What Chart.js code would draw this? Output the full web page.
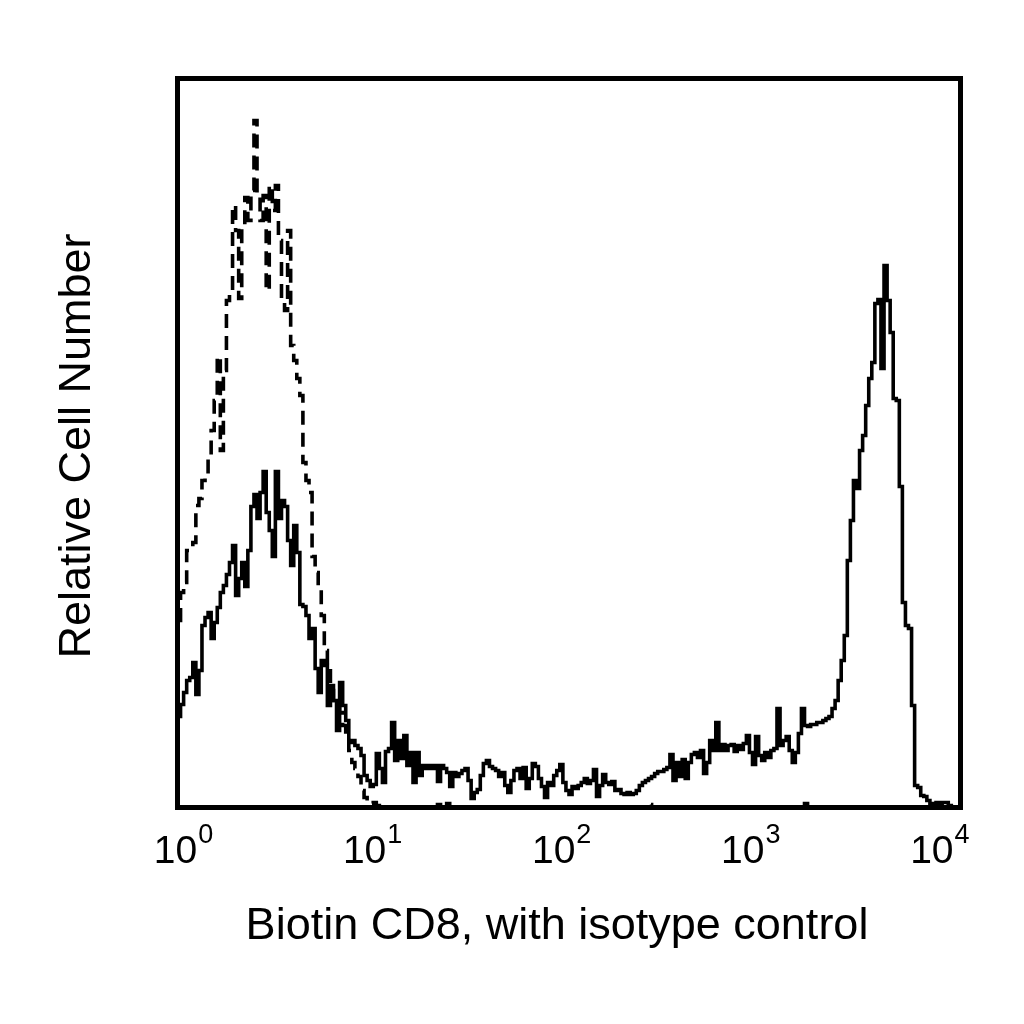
<!DOCTYPE html>
<html>
<head>
<meta charset="utf-8">
<title>Biotin CD8 histogram</title>
<script src="https://cdn.jsdelivr.net/npm/chart.js@4.4.0/dist/chart.umd.min.js"></script>
<style>
    body { margin: 0; background: #ffffff; }
    #wrap { width: 1024px; height: 1024px; }
</style>
</head>
<body>
<div id="wrap"><canvas id="graph" width="1024" height="1024"></canvas></div>
<script>
// 256 log channels, 64 channels per decade (10^0 .. 10^4)
// Biotin CD8 stained cells (solid line)
var cd8Counts = [
    91, 103, 115, 127, 130, 145, 113, 137, 182, 190,
    195, 169, 185, 200, 215, 222, 233, 245, 262, 212,
    229, 245, 221, 257, 301, 313, 289, 315, 336, 295,
    277, 251, 336, 289, 307, 301, 267, 242, 282, 255,
    203, 201, 192, 169, 179, 139, 115, 147, 142, 102,
    122, 107, 77, 125, 102, 87, 65, 67, 62, 59,
    52, 32, 27, 21, 23, 54, 39, 25, 56, 59,
    85, 47, 67, 49, 72, 42, 55, 25, 55, 32,
    42, 39, 42, 39, 42, 26, 42, 39, 35, 21,
    35, 31, 34, 37, 39, 27, 9, 15, 18, 32,
    44, 47, 41, 39, 37, 31, 35, 22, 15, 27,
    37, 39, 29, 40, 19, 29, 44, 41, 29, 21,
    10, 25, 22, 32, 37, 43, 25, 17, 13, 21,
    19, 22, 25, 29, 24, 27, 38, 11, 22, 33,
    25, 23, 26, 17, 18, 14, 13, 15, 13, 14,
    17, 22, 25, 27, 29, 31, 34, 36, 36, 38,
    40, 53, 27, 45, 31, 48, 29, 45, 53, 55,
    50, 57, 34, 45, 67, 57, 85, 57, 63, 57,
    62, 63, 56, 62, 58, 64, 72, 55, 43, 71,
    52, 47, 55, 50, 57, 59, 99, 62, 67, 71,
    57, 45, 55, 74, 99, 82, 81, 83, 83, 85,
    85, 87, 89, 91, 99, 107, 127, 147, 172, 247,
    287, 327, 319, 357, 372, 402, 429, 445, 504, 508,
    439, 542, 507, 475, 409, 407, 321, 205, 182, 179,
    102, 22, 20, 12, 11, 7, 4, 3, 5, 2,
    5, 5, 2, 0, 0, 0
];

// isotype control (dashed line)
var isotypeCounts = [
    187, 215, 225, 257, 259, 265, 302, 309, 327, 333,
    352, 377, 407, 451, 357, 437, 507, 517, 602, 577,
    509, 582, 610, 587, 617, 687, 612, 587, 612, 517,
    622, 597, 622, 567, 507, 497, 577, 462, 447, 429,
    412, 345, 327, 315, 251, 235, 222, 192, 157, 139,
    117, 107, 102, 95, 82, 72, 57, 45, 39, 31,
    17, 10, 7, 4, 5, 2, 0, 0, 0, 0,
    0, 0, 0, 0, 0, 0, 0, 0, 0, 0,
    0, 0, 0, 0, 0, 3, 0, 0, 4, 0,
    3, 0, 0, 0, 0, 0, 0, 0, 0, 0,
    0, 0, 0, 0, 0, 0, 0, 0, 0, 0,
    0, 0, 0, 0, 0, 0, 0, 0, 0, 0,
    0, 0, 0, 0, 0, 0, 0, 0, 0, 0,
    0, 0, 0, 0, 0, 0, 0, 0, 0, 0,
    0, 0, 0, 0, 0, 0, 0, 0, 0, 0,
    0, 0, 0, 0, 3, 0, 0, 0, 0, 0,
    0, 0, 0, 0, 0, 0, 0, 0, 0, 0,
    0, 0, 0, 0, 0, 0, 0, 0, 0, 0,
    0, 0, 0, 0, 0, 0, 0, 0, 0, 0,
    0, 0, 0, 0, 0, 0, 0, 0, 0, 0,
    0, 0, 0, 0, 0, 4, 0, 0, 0, 0,
    0, 0, 0, 0, 0, 0, 0, 0, 0, 0,
    0, 0, 0, 0, 0, 0, 0, 0, 0, 0,
    0, 0, 0, 0, 0, 0, 0, 0, 0, 0,
    0, 0, 0, 0, 0, 0, 0, 0, 0, 0,
    0, 0, 0, 0, 0, 0
];

// decade tick marks: channel where each decade starts, and its exponent
var tickChannels = [0, 64, 128, 192, 256];
var tickExponents = ['0', '1', '2', '3', '4'];

var xTitle = 'Biotin CD8, with isotype control';
var yTitle = 'Relative Cell Number';

function toPoints(arr) {
    var pts = [];
    for (var i = 0; i < arr.length; i++) {
        pts.push({ x: i + 0.5, y: arr[i] });
    }
    return pts;
}

var fontName = '"Liberation Sans", Arial, Helvetica, sans-serif';

// white page, black frame, superscript tick labels and the two titles
var framePlugin = {
    id: 'framePlugin',
    beforeDraw: function (chart) {
        var ctx = chart.ctx;
        ctx.save();
        ctx.fillStyle = '#ffffff';
        ctx.fillRect(0, 0, chart.width, chart.height);
        ctx.restore();
    },
    afterDraw: function (chart) {
        var ctx = chart.ctx;
        var a = chart.chartArea;
        var xs = chart.scales.x;
        ctx.save();
        ctx.strokeStyle = '#000000';
        ctx.lineWidth = 5;
        ctx.strokeRect(a.left, a.top, a.right - a.left, a.bottom - a.top);

        ctx.fillStyle = '#000000';
        ctx.textBaseline = 'alphabetic';
        ctx.textAlign = 'left';
        for (var i = 0; i < tickChannels.length; i++) {
            var px = xs.getPixelForValue(tickChannels[i]);
            // labels sit a little inside the decade marks, like the original
            var cx = a.left + 6 + (px - a.left) * 0.966;
            ctx.font = '39px ' + fontName;
            var wBase = ctx.measureText('10').width;
            ctx.font = '27px ' + fontName;
            var wExp = ctx.measureText(tickExponents[i]).width;
            var start = cx - (wBase + wExp + 1) / 2;
            ctx.font = '39px ' + fontName;
            ctx.fillText('10', start, a.bottom + 55);
            ctx.font = '27px ' + fontName;
            ctx.fillText(tickExponents[i], start + wBase + 1, a.bottom + 35);
        }

        ctx.font = '45px ' + fontName;
        ctx.textAlign = 'center';
        ctx.fillText(xTitle, 557, a.bottom + 131);

        ctx.translate(90, 446);
        ctx.rotate(-Math.PI / 2);
        ctx.fillText(yTitle, 0, 0);
        ctx.restore();
    }
};

var graph = document.getElementById('graph').getContext('2d');

var histChart = new Chart(graph, {
    type: 'line',
    data: {
        datasets: [{
            label: 'CD8',
            data: toPoints(cd8Counts),
            stepped: 'middle',
            fill: false,
            borderColor: '#000000',
            borderWidth: 3.6,
            pointRadius: 0
        }, {
            label: 'Isotype control',
            data: toPoints(isotypeCounts),
            stepped: 'middle',
            fill: false,
            borderColor: '#000000',
            borderWidth: 3.6,
            borderDash: [14, 8],
            pointRadius: 0
        }]
    },
    options: {
        responsive: false,
        devicePixelRatio: 1,
        animation: false,
        layout: {
            padding: { left: 177.5, right: 63.5, top: 78.5, bottom: 216.5 }
        },
        scales: {
            x: { type: 'linear', min: 0, max: 256, display: false },
            y: { min: 0, max: 729, display: false }
        },
        plugins: {
            legend: { display: false },
            tooltip: { enabled: false }
        }
    },
    plugins: [framePlugin]
});
</script>
</body>
</html>
